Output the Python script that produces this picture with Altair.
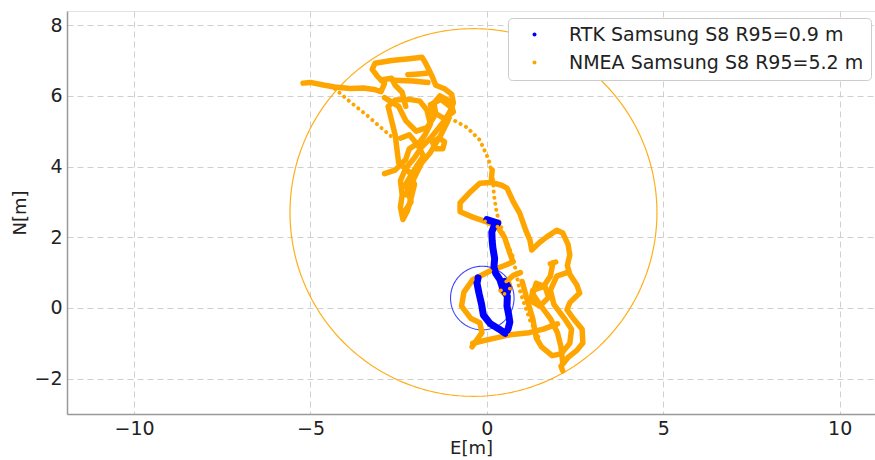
import altair as alt
import pandas as pd
import numpy as np

# ---- labels / ticks ----
rtk_label = "RTK Samsung S8 R95=0.9 m"
nmea_label = "NMEA Samsung S8 R95=5.2 m"
x_ticks = [-10, -5, 0, 5, 10]
y_ticks = [-2, 0, 2, 4, 6, 8]

# ---- R95 circles (center E, center N, radius) ----
circle_series = [rtk_label, nmea_label]
circle_e = [-0.13, -0.38]
circle_n = [0.28, 2.70]
circle_r = [0.9, 5.2]

# ---- NMEA trajectory, solid strands (segment id, E, N) ----
nmea_seg = (
    [1] * 53 + [2] * 3 + [3] * 3 + [4] * 6 + [5] * 7 + [6] * 6 + [7] * 21
    + [8] * 27 + [9] * 7 + [10] * 6 + [11] * 15 + [12] * 14 + [13] * 2
    + [14] * 9 + [15] * 8 + [16] * 5
)
nmea_e = [
    -5.21, -5.0, -4.6, -4.31, -3.88, -3.5, -3.2, -3.0, -2.9, -3.1, -3.25, -3.17, -2.7, -2.2, -1.84,
    -1.75, -1.65, -1.55, -1.45, -1.2, -1.0, -0.95, -1.05, -1.2, -1.4, -1.6, -1.85, -2.05, -2.3, -2.45,
    -2.4, -2.45, -2.38, -2.25, -2.15, -2.05, -2.2, -2.5, -2.55, -2.6, -2.7, -2.8, -2.6, -2.2, -1.9,
    -1.7, -1.6, -1.75, -1.9, -2.2, -2.3, -2.6, -2.9,
    -2.61, -2.1, -1.67,
    -2.24, -1.95, -1.7,
    -1.55, -1.45, -1.25, -1.2, -1.35, -1.55,
    -1.33, -1.05, -0.95, -1.2, -1.45, -1.5, -1.33,
    -2.3, -2.1, -1.85, -1.6, -1.3, -1.1,
    0.15, 0.12, -0.2, -0.5, -0.76, -0.76, -0.4, -0.05, 0.3, 0.5, 0.65, 0.74, 0.5, 0.1, -0.4,
    -0.65, -0.72, -0.45, -0.2, -0.14, -0.42,
    0.12, 0.42, 0.57, 0.75, 0.93, 1.1, 1.22, 1.27, 1.5, 1.7, 1.98, 2.15, 2.3, 2.35, 2.28,
    2.35, 2.55, 2.63, 2.35, 2.27, 2.45, 2.7, 2.72, 2.55, 2.3, 2.1, 2.15,
    0.95, 0.75, 0.55, 0.4, 0.5, 0.65, 0.6,
    -0.4, 0.1, 0.65, 1.2, 1.6, 2.0,
    1.87, 1.8, 1.6, 1.3, 1.25, 1.5, 1.75, 1.65, 1.4, 1.3, 1.5, 1.8, 2.0, 2.1, 2.15,
    1.0, 1.15, 1.3, 1.4, 1.55, 1.85, 2.1, 2.35, 2.4, 2.2, 1.9, 1.8, 1.98, 2.27,
    1.8, 1.95,
    -2.9, -2.5, -2.3, -2.0, -1.7, -1.5, -1.6, -1.3, -1.05,
    -2.45, -2.2, -1.95, -1.8, -2.0, -2.3, -2.15, -2.35,
    -3.0, -2.7, -2.6, -2.4, -2.3,
]
nmea_n = [
    6.36, 6.38, 6.30, 6.25, 6.21, 6.22, 6.18, 6.12, 6.35, 6.55, 6.75, 6.92, 7.0, 7.05, 7.09,
    6.95, 6.75, 6.55, 6.3, 6.2, 6.05, 5.8, 5.55, 5.3, 5.05, 4.8, 4.55, 4.25, 3.95, 3.6,
    3.2, 2.85, 2.5, 2.75, 3.1, 3.5, 3.85, 4.1, 4.5, 4.9, 5.3, 5.7, 5.88, 5.9, 5.85,
    5.6, 5.2, 4.9, 4.7, 4.5, 4.2, 3.9, 3.8,
    6.44, 6.42, 6.38,
    6.6, 6.62, 6.64,
    4.7, 4.5, 4.5, 4.7, 4.8, 4.7,
    6.0, 5.85, 5.55, 5.35, 5.5, 5.8, 6.0,
    3.2, 3.6, 4.1, 4.4, 4.9, 5.3,
    3.9, 3.55, 3.53, 3.25, 2.97, 2.72, 2.57, 2.45, 2.3, 2.0, 1.55, 1.3, 1.2, 1.05, 0.8,
    0.45, 0.05, -0.3, -0.42, -0.7, -1.1,
    3.55, 3.47, 3.39, 3.0, 2.68, 2.2, 1.92, 1.64, 1.86, 2.01, 2.2, 2.12, 1.8, 1.5, 1.2,
    0.95, 0.65, 0.42, 0.15, -0.05, -0.3, -0.6, -0.99, -1.2, -1.4, -1.65, -1.78,
    1.0, 0.92, 0.75, 0.5, 0.4, 0.55, 0.78,
    -1.0, -0.88, -0.76, -0.7, -0.6, -0.45,
    1.27, 0.9, 0.6, 0.5, 0.2, 0.05, 0.3, 0.6, 0.7, 0.4, 0.1, -0.3, -0.7, -1.1, -1.55,
    0.75, 0.2, -0.3, -0.85, -1.1, -1.35, -1.3, -1.0, -0.6, -0.3, 0.1, 0.5, 0.9, 1.0,
    1.25, 1.3,
    5.95, 5.7, 5.3, 5.0, 5.1, 5.4, 5.75, 5.9, 5.7,
    4.8, 4.9, 4.6, 4.3, 4.0, 3.5, 3.0, 2.7,
    6.45, 6.5, 6.3, 6.1, 5.7,
]

# ---- NMEA trajectory, sparse (dotted) strands ----
nmea_dot_seg = [1] * 5 + [2] * 14
nmea_dot_e = [-4.31, -3.9, -3.4, -3.0, -2.65,
              -1.05, -0.57, -0.2, 0.05, 0.17, 0.2, 0.28, 0.5, 0.74, 0.85, 0.93, 1.1, 1.22, 1.5]
nmea_dot_n = [6.2, 5.85, 5.45, 5.1, 4.8,
              5.37, 5.11, 4.75, 4.2, 3.7, 3.2, 2.68, 2.0, 1.44, 0.9, 0.5, 0.0, -0.34, -0.9]

# ---- RTK trajectory ----
rtk_seg = [1] * 25 + [2] * 4
rtk_e = [0.0, 0.15, 0.31, 0.2, 0.14, 0.15, 0.17, 0.22, 0.2, 0.25, 0.37, 0.45, 0.58, 0.57, 0.62,
         0.65, 0.6, 0.52, 0.35, 0.1, -0.1, -0.15, -0.22, -0.28, -0.25,
         0.5, 0.6, 0.58, 0.52]
rtk_n = [2.5, 2.45, 2.4, 2.3, 2.15, 1.9, 1.7, 1.4, 1.15, 0.98, 0.8, 0.55, 0.33, 0.05, -0.2,
         -0.4, -0.6, -0.72, -0.6, -0.45, -0.2, 0.1, 0.4, 0.7, 0.85,
         0.75, 0.6, 0.45, 0.6]

# ---- build tables ----
nmea_df = pd.DataFrame({"seg": nmea_seg, "E": nmea_e, "N": nmea_n})
nmea_df["i"] = range(len(nmea_df))
nmea_dot_df = pd.DataFrame({"seg": nmea_dot_seg, "E": nmea_dot_e, "N": nmea_dot_n})
nmea_dot_df["i"] = range(len(nmea_dot_df))
rtk_df = pd.DataFrame({"seg": rtk_seg, "E": rtk_e, "N": rtk_n})
rtk_df["i"] = range(len(rtk_df))

rows = []
ang = np.linspace(0, 2 * np.pi, 241)
for s, ce, cn, r in zip(circle_series, circle_e, circle_n, circle_r):
    for k, a in enumerate(ang):
        rows.append({"series": s, "i": k, "E": ce + r * np.cos(a), "N": cn + r * np.sin(a)})
circ_df = pd.DataFrame(rows)

legend_df = pd.concat([
    rtk_df.assign(series=rtk_label),
    nmea_df.assign(series=nmea_label),
])

BLUE = "#0000ff"
ORANGE = "#ffa500"

xs = alt.Scale(domain=[-11.9, 11.0], nice=False, zero=False)
ys = alt.Scale(domain=[-3.0, 8.4], nice=False, zero=False)
xenc = alt.X("E:Q", scale=xs, axis=alt.Axis(values=x_ticks, title="E[m]"))
yenc = alt.Y("N:Q", scale=ys, axis=alt.Axis(values=y_ticks, title="N[m]"))

circ_orange = alt.Chart(circ_df[circ_df.series == nmea_label]).mark_line(
    strokeWidth=1.2, color=ORANGE, opacity=0.9
).encode(x=xenc, y=yenc, order="i:Q")
circ_blue = alt.Chart(circ_df[circ_df.series == rtk_label]).mark_line(
    strokeWidth=1.1, color=BLUE, opacity=0.75
).encode(x=xenc, y=yenc, order="i:Q")

nmea_line = alt.Chart(nmea_df).mark_line(
    strokeWidth=5.5, color=ORANGE, strokeCap="round", strokeJoin="round"
).encode(x=xenc, y=yenc, detail="seg:N", order="i:Q")
nmea_dots = alt.Chart(nmea_dot_df).mark_line(
    strokeWidth=4, color=ORANGE, strokeCap="round", strokeDash=[0.1, 6]
).encode(x=xenc, y=yenc, detail="seg:N", order="i:Q")
rtk_line = alt.Chart(rtk_df).mark_line(
    strokeWidth=7, color=BLUE, strokeCap="round", strokeJoin="round"
).encode(x=xenc, y=yenc, detail="seg:N", order="i:Q")

legend_pts = alt.Chart(legend_df).mark_point(filled=True, opacity=1, size=14).encode(
    x=xenc, y=yenc,
    color=alt.Color(
        "series:N",
        scale=alt.Scale(domain=[rtk_label, nmea_label], range=[BLUE, ORANGE]),
        legend=alt.Legend(
            title=None, orient="none", legendX=441, legendY=7,
            symbolType="circle", symbolSize=16, symbolOpacity=1,
            labelFontSize=19, labelFont="DejaVu Sans", labelColor="#222222",
            labelLimit=0,
            padding=7, rowPadding=8, labelOffset=25, symbolOffset=10,
            strokeColor="#cccccc", fillColor="white", cornerRadius=4,
        ),
    ),
)

chart = alt.layer(
    circ_orange, circ_blue, nmea_dots, nmea_line, rtk_line, legend_pts
).properties(
    width=808, height=403,
    autosize=alt.AutoSizeParams(type="none"),
    padding={"left": 67, "top": 11, "right": 0, "bottom": 46},
).configure_view(
    stroke="#e3e3e3", strokeWidth=1
).configure_axis(
    grid=True, gridColor="#cfcfcf", gridDash=[6, 4], gridWidth=1,
    domainColor="#999999", domainWidth=1.5,
    tickSize=0, labelFontSize=19, titleFontSize=18,
    labelFont="DejaVu Sans", titleFont="DejaVu Sans",
    labelColor="#222222", titleColor="#222222", titleFontWeight="normal",
    labelPadding=5,
).configure_axisX(titlePadding=1).configure_axisY(titlePadding=4)

chart.save("out.html", embed_options={"renderer": "svg", "actions": False})
